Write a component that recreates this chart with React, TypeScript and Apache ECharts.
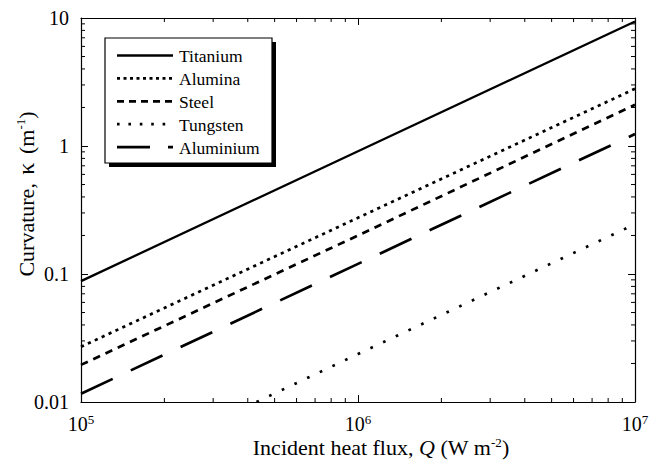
import React, { useEffect, useRef } from "react";
import * as echarts from "echarts";

// ---- data ----
const seriesNames = ["Titanium", "Alumina", "Steel", "Tungsten", "Aluminium"];
const heatFlux = [1e5, 1e6, 1e7];
const titanium = [0.088, 0.91, 9.4];
const alumina = [0.027, 0.275, 2.8];
const steel = [0.0195, 0.2, 2.1];
const tungstenFlux = [4.3e5, 1e6, 1e7];
const tungsten = [0.01, 0.0237, 0.245];
const aluminium = [0.0116, 0.12, 1.24];

const xMin = 1e5;
const xMax = 1e7;
const yMin = 0.01;
const yMax = 10;
const xMinorTicks = [2e5, 3e5, 4e5, 5e5, 6e5, 7e5, 8e5, 9e5, 2e6, 3e6, 4e6, 5e6, 6e6, 7e6, 8e6, 9e6];
const yMinorTicks = [
  0.02, 0.03, 0.04, 0.05, 0.06, 0.07, 0.08, 0.09,
  0.2, 0.3, 0.4, 0.5, 0.6, 0.7, 0.8, 0.9,
  2, 3, 4, 5, 6, 7, 8, 9,
];

const FONT = "Liberation Serif";

const lineStyles: any[] = [
  { width: 2.3, type: "solid" },
  { width: 2.7, type: [3.2, 4.4] },
  { width: 2.7, type: [7.5, 6] },
  { width: 2.7, type: [2.7, 11.3] },
  { width: 2.7, type: [35, 20] },
];
const legendDash: any[] = [null, [3, 3.5], [7, 5], [2.6, 8.8], [33, 18]];

export default function App() {
  const ref = useRef<HTMLDivElement>(null);
  useEffect(() => {
    if (!ref.current) return;
    const chart = echarts.init(ref.current, undefined, { renderer: "svg" });

    const seriesData = [
      heatFlux.map((x, i) => [x, titanium[i]]),
      heatFlux.map((x, i) => [x, alumina[i]]),
      heatFlux.map((x, i) => [x, steel[i]]),
      tungstenFlux.map((x, i) => [x, tungsten[i]]),
      heatFlux.map((x, i) => [x, aluminium[i]]),
    ];

    const tickStyle = { stroke: "#000", lineWidth: 1 };
    const minorLen = 4;

    const axisCommon = {
      type: "log",
      logBase: 10,
      splitLine: { show: false },
      minorTick: { show: false },
      minorSplitLine: { show: false },
      axisLine: { show: true, onZero: false, lineStyle: { color: "#000", width: 1.2 } },
      axisTick: { show: true, inside: true, length: 7, lineStyle: { color: "#000", width: 1 } },
    };

    // zrender-level rich styles (graphic component)
    const zt = (size: number, extra: any = {}) => ({ fontFamily: FONT, fontSize: size, fill: "#000", lineHeight: size, ...extra });
    const zSup = zt(13, { verticalAlign: "top", lineHeight: 13 });

    const legendX0 = 117;
    const legendX1 = 173;
    const legendTextX = 179;
    const rowY = (i: number) => 55.5 + i * 22.9;

    const graphics: any[] = [
      { type: "rect", shape: { x: 109, y: 42, width: 167, height: 125 }, style: { fill: "#000" } },
      { type: "rect", shape: { x: 105, y: 38, width: 167, height: 125 }, style: { fill: "#fff", stroke: "#000", lineWidth: 1.2 } },
    ];
    seriesNames.forEach((name, i) => {
      const ls: any = { stroke: "#000", lineWidth: lineStyles[i].width };
      if (legendDash[i]) ls.lineDash = legendDash[i];
      graphics.push({
        type: "line",
        shape: { x1: legendX0, y1: rowY(i), x2: legendX1, y2: rowY(i) },
        style: ls,
      });
      graphics.push({
        type: "text",
        x: legendTextX,
        y: rowY(i) + 0.5,
        style: {
          text: `{a|${name}}`,
          rich: { a: zt(17.5) },
          align: "left",
          verticalAlign: "middle",
        },
      });
    });
    // axis titles
    graphics.push({
      type: "text",
      x: 381,
      y: 447,
      style: {
        text: "{a|Incident heat flux, }{i|Q}{a| (W m}{s|-2}{a|)}",
        rich: { a: zt(22), i: zt(22, { fontStyle: "italic" }), s: zSup },
        align: "center",
        verticalAlign: "middle",
      },
    });
    graphics.push({
      type: "text",
      x: 26,
      y: 194,
      rotation: Math.PI / 2,
      style: {
        text: "{a|Curvature, }{k|κ}{a| (m}{s|-1}{a|)}",
        rich: { a: zt(22), k: zt(24, { padding: [0, 3, 0, 3] }), s: zSup },
        align: "center",
        verticalAlign: "middle",
      },
    });

    const supStyle = { fontFamily: FONT, fontSize: 13, color: "#000", verticalAlign: "top", lineHeight: 13 };

    const option: any = {
      animation: false,
      backgroundColor: "#fff",
      textStyle: { fontFamily: FONT },
      grid: { left: 81, right: 26, top: 18, bottom: 58, outerBoundsMode: "none" },
      xAxis: [
        {
          ...axisCommon,
          position: "bottom",
          min: xMin,
          max: xMax,
          axisLabel: {
            color: "#000",
            fontFamily: FONT,
            fontSize: 20,
            margin: 11,
            formatter: (v: number) => `{n|10}{sup|${Math.round(Math.log10(v))}}`,
            rich: { n: { fontFamily: FONT, fontSize: 20, color: "#000", lineHeight: 22 }, sup: supStyle },
          },
        },
        {
          ...axisCommon,
          position: "top",
          min: xMin,
          max: xMax,
          axisLabel: { show: false },
        },
      ],
      yAxis: [
        {
          ...axisCommon,
          position: "left",
          min: yMin,
          max: yMax,
          axisLabel: {
            color: "#000",
            fontFamily: FONT,
            fontSize: 20,
            margin: 12,
            formatter: (v: number) => `{v|${String(+v.toPrecision(6))}}`,
            rich: { v: { fontFamily: FONT, fontSize: 20, color: "#000" } },
          },
        },
        {
          ...axisCommon,
          position: "right",
          min: yMin,
          max: yMax,
          axisLabel: { show: false },
        },
      ],
      series: [
        ...seriesNames.map((name, i) => ({
          name,
          type: "line",
          xAxisIndex: 0,
          yAxisIndex: 0,
          data: seriesData[i],
          showSymbol: false,
          symbol: "none",
          silent: true,
          lineStyle: { color: "#000", width: lineStyles[i].width, type: lineStyles[i].type, cap: "butt" },
        })),
        {
          type: "custom",
          coordinateSystem: "cartesian2d",
          xAxisIndex: 0,
          yAxisIndex: 0,
          silent: true,
          data: xMinorTicks.map((v) => [v, yMin]),
          renderItem: (_p: any, api: any) => {
            const v = api.value(0);
            const b = api.coord([v, yMin]);
            const t = api.coord([v, yMax]);
            return {
              type: "group",
              children: [
                { type: "line", shape: { x1: b[0], y1: b[1], x2: b[0], y2: b[1] - minorLen }, style: tickStyle },
                { type: "line", shape: { x1: t[0], y1: t[1], x2: t[0], y2: t[1] + minorLen }, style: tickStyle },
              ],
            };
          },
        },
        {
          type: "custom",
          coordinateSystem: "cartesian2d",
          xAxisIndex: 0,
          yAxisIndex: 0,
          silent: true,
          data: yMinorTicks.map((v) => [xMin, v]),
          renderItem: (_p: any, api: any) => {
            const v = api.value(1);
            const l = api.coord([xMin, v]);
            const r = api.coord([xMax, v]);
            return {
              type: "group",
              children: [
                { type: "line", shape: { x1: l[0], y1: l[1], x2: l[0] + minorLen, y2: l[1] }, style: tickStyle },
                { type: "line", shape: { x1: r[0], y1: r[1], x2: r[0] - minorLen, y2: r[1] }, style: tickStyle },
              ],
            };
          },
        },
      ],
      graphic: graphics,
    };

    chart.setOption(option);
    return () => chart.dispose();
  }, []);

  return (
    <div
      ref={ref}
      style={{ position: "fixed", left: 0, top: 0, width: 661, height: 460, background: "#fff" }}
    />
  );
}
